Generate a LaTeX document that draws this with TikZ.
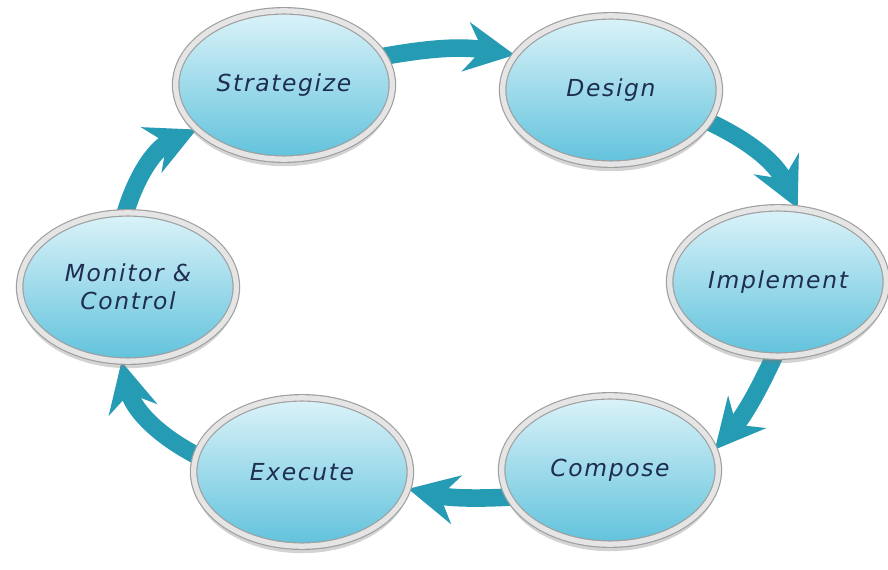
\documentclass[tikz,border=0pt]{standalone}
\usepackage{fontspec}
\setmainfont{DejaVu Sans}
\usetikzlibrary{shapes.geometric}
\usetikzlibrary{arrows.meta}
\usetikzlibrary{shadows}
\usetikzlibrary{backgrounds}
\definecolor{disctop}{RGB}{220,243,249}
\definecolor{discmid}{RGB}{120,203,225}
\definecolor{discbot}{RGB}{96,194,220}
\definecolor{disctext}{RGB}{30,45,80}
\definecolor{flowcol}{RGB}{38,155,180}
\tikzset{x=0.03cm, y=-0.03cm, % one unit is one pixel of the 888x570 sheet
phase/.style={ % Sets the properties for each disc
ellipse,
minimum width=6.5cm, minimum height=4.45cm,
draw=gray!75, line width=1pt,
double=gray!20, double distance=4.5pt,
top color=disctop, middle color=discmid, bottom color=discbot,
drop shadow={shadow xshift=0pt, shadow yshift=-6pt, opacity=0.35, fill=gray},
font=\fontsize{20}{24}\selectfont\itshape\addfontfeature{LetterSpace=7},
text=disctext, align=center},
cycle/.style={ % Sets the properties for each bent arrow
draw=flowcol,
line width=15pt,
-{Stealth[length=42pt, width=42pt, inset=14pt]},
shorten <=-6pt}}

\begin{document}
\begin{tikzpicture}
\useasboundingbox (0,0) rectangle (888,570);
\node[phase] (strat) at (284,85) {Strategize};
\node[phase] (design) at (611,90) {Design};
\node[phase] (impl) at (778,282) {Implement};
\node[phase] (comp) at (610,470) {Compose};
\node[phase] (exec) at (302,472) {Execute};
\node[phase] (mon) at (128,287) {Monitor \&\\Control};
\begin{pgfonlayer}{background}
\draw (strat.16) edge[cycle, bend left=10] (design.160)
(design.-18) edge[cycle, bend left=20] (impl.75)
(impl.-93) edge[cycle, bend left=8] (comp.11)
(comp.195) edge[cycle, bend left=8] (exec.-9)
(exec.171) edge[cycle, bend left=25] (mon.-95)
(mon.92) edge[cycle, bend left=25] (strat.207);
\end{pgfonlayer}
\end{tikzpicture}
\end{document}
